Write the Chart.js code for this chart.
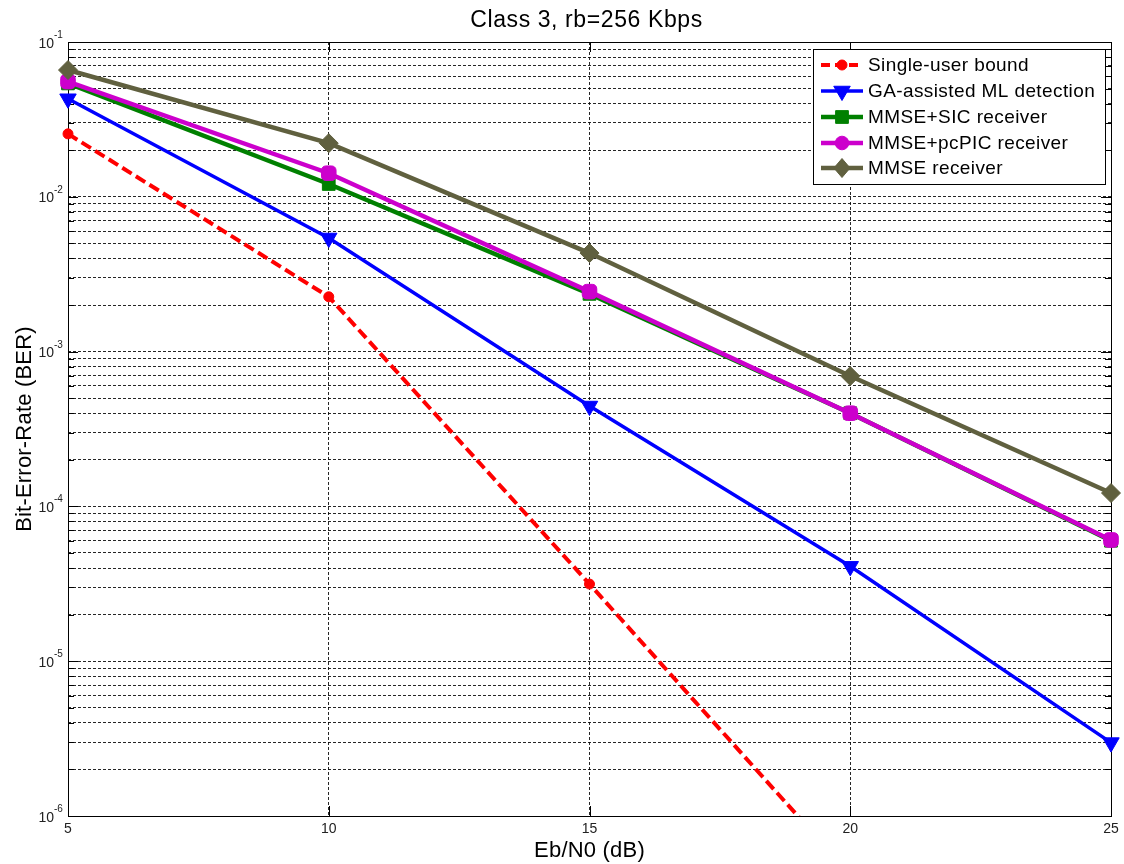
<!DOCTYPE html>
<html><head><meta charset="utf-8">
<script src="https://cdn.jsdelivr.net/npm/chart.js@4.4.1/dist/chart.umd.min.js"></script>
<style>html,body{margin:0;padding:0;background:#fff;}canvas{display:block;}</style>
</head><body>
<canvas id="c" width="1124" height="864"></canvas>
<script>
// ---- data ----
const ebn0 = [5, 10, 15, 20, 25];
const singleUser = [0.0255, 2.26e-3, 3.15e-5, 4.2e-7, null];
const gaML = [0.043, 5.42e-3, 4.45e-4, 4.1e-5, 2.98e-6];
const mmseSic = [0.054, 0.0121, 2.36e-3, 4.0e-4, 6.0e-5];
const mmsePcpic = [0.0555, 0.0142, 2.44e-3, 4.0e-4, 6.07e-5];
const mmseOnly = [0.0659, 0.0222, 4.33e-3, 6.95e-4, 1.22e-4];
const seriesNames = ['Single-user bound', 'GA-assisted ML detection', 'MMSE+SIC receiver', 'MMSE+pcPIC receiver', 'MMSE receiver'];
const xTickValues = [5, 10, 15, 20, 25];
const yDecades = [1e-6, 1e-5, 1e-4, 1e-3, 1e-2, 1e-1];
const yDecadeExp = ['-6', '-5', '-4', '-3', '-2', '-1'];
const titleText = 'Class 3, rb=256 Kbps';
const xTitle = 'Eb/N0 (dB)';
const yTitle = 'Bit-Error-Rate (BER)';

const FONT = '"Liberation Sans", Arial, Helvetica, sans-serif';
const colors = ['#ff0000', '#0000ff', '#008000', '#cc00cc', '#60603f'];
const styles = [
  {w: 4, dash: [11, 5], ps: 'circle', r: 5, rot: 0},
  {w: 3.5, dash: [], ps: 'triangle', r: 9.5, rot: 180},
  {w: 4.5, dash: [], ps: 'rect', r: 9, rot: 0},
  {w: 4.5, dash: [], ps: 'rectRounded', r: 8.5, rot: 0},
  {w: 4.5, dash: [], ps: 'rectRot', r: 9.5, rot: 0}
];
const allSeries = [singleUser, gaML, mmseSic, mmsePcpic, mmseOnly];

// minor grid values built from decades (1..9 x 10^n)
const yGridValues = [];
yDecades.forEach((d, i) => {
  if (i === yDecades.length - 1) { yGridValues.push(d); return; }
  for (let k = 1; k <= 9; k++) yGridValues.push(d * k);
});

const datasets = allSeries.map((s, i) => ({
  label: seriesNames[i],
  data: ebn0.map((x, j) => ({x: x, y: s[j]})),
  borderColor: colors[i],
  backgroundColor: colors[i],
  borderWidth: styles[i].w,
  borderDash: styles[i].dash,
  pointStyle: styles[i].ps,
  pointRadius: styles[i].r,
  pointRotation: styles[i].rot,
  pointBorderWidth: 1,
  pointBackgroundColor: colors[i],
  pointBorderColor: colors[i],
  tension: 0,
  spanGaps: false,
  order: 5 - i,
  clip: {left: 20, top: 20, right: 20, bottom: 0}
}));

function drawMarker(ctx, style, color, x, y) {
  ctx.save();
  ctx.fillStyle = color; ctx.strokeStyle = color; ctx.lineWidth = 1; ctx.setLineDash([]);
  ctx.beginPath();
  const r = style.r;
  if (style.ps === 'circle') {
    ctx.arc(x, y, r, 0, Math.PI * 2);
  } else if (style.ps === 'triangle') {
    ctx.moveTo(x - r * 0.87, y - r * 0.5);
    ctx.lineTo(x + r * 0.87, y - r * 0.5);
    ctx.lineTo(x, y + r);
    ctx.closePath();
  } else if (style.ps === 'rect') {
    const s = r * Math.SQRT1_2;
    ctx.rect(x - s, y - s, 2 * s, 2 * s);
  } else if (style.ps === 'rectRounded') {
    ctx.arc(x, y, r * 0.8, 0, Math.PI * 2);
  } else {
    ctx.moveTo(x, y - r); ctx.lineTo(x + r * 0.85, y); ctx.lineTo(x, y + r); ctx.lineTo(x - r * 0.85, y); ctx.closePath();
  }
  ctx.fill(); ctx.stroke();
  ctx.restore();
}

const decor = {
  id: 'decor',
  beforeDatasetsDraw(chart) {
    const ctx = chart.ctx, a = chart.chartArea;
    const xs = chart.scales.x, ys = chart.scales.y;
    ctx.save();
    ctx.strokeStyle = '#000'; ctx.lineWidth = 1; ctx.setLineDash([]);
    // inward tick marks
    ctx.beginPath();
    xTickValues.forEach(v => {
      const px = Math.round(xs.getPixelForValue(v)) + 0.5;
      ctx.moveTo(px, a.bottom); ctx.lineTo(px, a.bottom - 10);
      ctx.moveTo(px, a.top); ctx.lineTo(px, a.top + 10);
    });
    yGridValues.forEach(v => {
      const py = Math.round(ys.getPixelForValue(v)) + 0.5;
      const major = yDecades.some(d => Math.abs(d - v) / d < 1e-9);
      const len = major ? 10 : 6;
      ctx.moveTo(a.left, py); ctx.lineTo(a.left + len, py);
      ctx.moveTo(a.right, py); ctx.lineTo(a.right - len, py);
    });
    ctx.stroke();
    // box
    ctx.strokeRect(Math.round(a.left) + 0.5, Math.round(a.top) + 0.5, Math.round(a.right - a.left), Math.round(a.bottom - a.top));
    // tick labels
    ctx.fillStyle = '#222';
    ctx.font = '14px ' + FONT;
    ctx.textAlign = 'center'; ctx.textBaseline = 'alphabetic';
    xTickValues.forEach(v => {
      ctx.fillText(String(v), xs.getPixelForValue(v), a.bottom + 17);
    });
    yDecades.forEach((d, i) => {
      const py = ys.getPixelForValue(d);
      ctx.font = '14px ' + FONT; ctx.textAlign = 'right';
      ctx.fillText('10', a.left - 14, py + 5.5);
      ctx.font = '10px ' + FONT; ctx.textAlign = 'left';
      ctx.fillText(yDecadeExp[i], a.left - 14, py - 4);
    });
    // titles
    ctx.fillStyle = '#000';
    ctx.textAlign = 'center';
    ctx.font = '23px ' + FONT;
    try { ctx.letterSpacing = '0.6px'; } catch (e) {}
    ctx.fillText(titleText, (a.left + a.right) / 2 - 3, 27);
    ctx.font = '22px ' + FONT;
    try { ctx.letterSpacing = '0.2px'; } catch (e) {}
    ctx.fillText(xTitle, (a.left + a.right) / 2, 857);
    ctx.save();
    ctx.translate(31, (a.top + a.bottom) / 2);
    ctx.rotate(-Math.PI / 2);
    ctx.fillText(yTitle, 0, 0);
    ctx.restore();
    try { ctx.letterSpacing = '0px'; } catch (e) {}
    ctx.restore();
  },
  afterDatasetsDraw(chart) {
    const ctx = chart.ctx;
    ctx.save();
    const bx = 813.5, by = 49.5, bw = 292, bh = 135;
    ctx.fillStyle = '#fff';
    ctx.fillRect(bx, by, bw, bh);
    ctx.strokeStyle = '#000'; ctx.lineWidth = 1; ctx.setLineDash([]);
    ctx.strokeRect(bx, by, bw, bh);
    const rowY = [65, 91, 117, 143, 168];
    seriesNames.forEach((name, i) => {
      const y = rowY[i];
      ctx.save();
      ctx.strokeStyle = colors[i]; ctx.lineWidth = styles[i].w;
      ctx.setLineDash(styles[i].dash.length ? [9, 5] : []);
      ctx.beginPath(); ctx.moveTo(821, y); ctx.lineTo(863, y); ctx.stroke();
      ctx.restore();
      drawMarker(ctx, styles[i], colors[i], 842, y);
      ctx.fillStyle = '#000';
      ctx.font = '19px ' + FONT;
      try { ctx.letterSpacing = '0.4px'; } catch (e) {}
      ctx.textAlign = 'left'; ctx.textBaseline = 'middle';
      ctx.fillText(name, 868, y + 1);
    });
    try { ctx.letterSpacing = '0px'; } catch (e) {}
    ctx.restore();
  }
};

new Chart(document.getElementById('c'), {
  type: 'line',
  data: {datasets: datasets},
  options: {
    responsive: false,
    animation: false,
    events: [],
    layout: {padding: {left: 68, top: 42, right: 13, bottom: 48}},
    plugins: {legend: {display: false}, title: {display: false}, tooltip: {enabled: false}},
    scales: {
      x: {
        type: 'linear', min: 5, max: 25,
        afterBuildTicks: (axis) => { axis.ticks = xTickValues.map(v => ({value: v})); },
        ticks: {display: false},
        grid: {color: 'rgba(0,0,0,0.85)', lineWidth: 1, drawTicks: false},
        border: {display: false, dash: [3, 2]}
      },
      y: {
        type: 'logarithmic', min: 1e-6, max: 1e-1,
        afterBuildTicks: (axis) => { axis.ticks = yGridValues.map(v => ({value: v})); },
        ticks: {display: false},
        grid: {color: 'rgba(0,0,0,0.85)', lineWidth: 1, drawTicks: false},
        border: {display: false, dash: [3, 2]}
      }
    }
  },
  plugins: [decor]
});
</script>
</body></html>
